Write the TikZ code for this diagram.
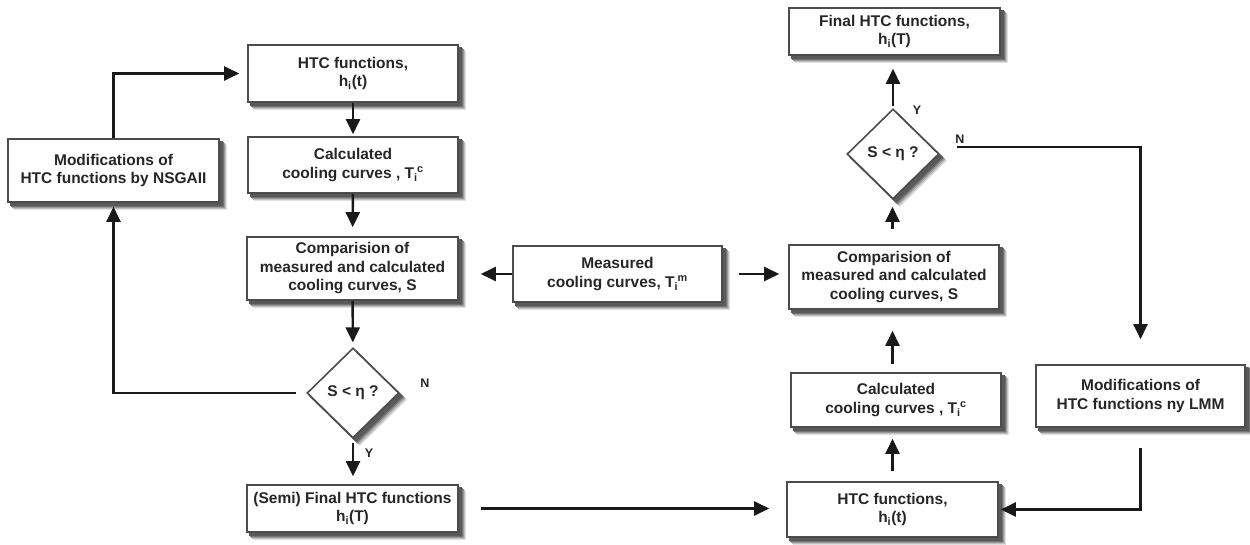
\documentclass[tikz,border=0pt]{standalone}
\usepackage{fontspec}
\setmainfont{Liberation Sans}
\usetikzlibrary{arrows.meta,shapes.geometric,calc}
\pgfdeclarelayer{bg}
\pgfsetlayers{bg,main}
\newcommand{\subsup}[2]{\textsubscript{#1}\kern-0.5pt\textsuperscript{#2}}
\newcommand{\shdbox}[1]{\foreach \o/\c in {7/12,6/25,5/40,4/55,3/65}{\fill[black!\c] ($(#1.north west)+(\o,\o)$) rectangle ($(#1.south east)+(\o,\o)$);}}
\newcommand{\shddia}[1]{\foreach \o/\c in {7/12,6/25,5/40,4/55,3/65}{\fill[black!\c] ($(#1.north)+(\o,\o)$) -- ($(#1.east)+(\o,\o)$) -- ($(#1.south)+(\o,\o)$) -- ($(#1.west)+(\o,\o)$) -- cycle;}}
\begin{document}
\begin{tikzpicture}[x=1pt,y=-1pt,
  box/.style={draw=black!70, line width=1.6pt, fill=white, align=center,
    font=\fontsize{15.5}{18.5}\selectfont\bfseries, text=black!85, inner sep=2pt},
  dia/.style={box, diamond, aspect=1, minimum width=92pt, minimum height=90pt, inner sep=0pt},
  arr/.style={line width=2.4pt, draw=black!90, -{Triangle[length=15pt,width=14pt]}},
  lbl/.style={font=\fontsize{12.5}{14}\selectfont\bfseries, text=black!85}]
\useasboundingbox (0,0) rectangle (1250,545);
% left column
\node[box, minimum width=210pt, minimum height=57pt] (htc1) at (353,73.5) {HTC functions,\\h\textsubscript{i}(t)};
\node[box, minimum width=210pt, minimum height=56pt] (calc1) at (353,165) {Calculated\\cooling curves , T\subsup{i}{c}};
\node[box, minimum width=211pt, minimum height=63pt] (nsga) at (113.5,170.5) {Modifications of\\HTC functions by NSGAII};
\node[box, minimum width=211pt, minimum height=63pt] (comp1) at (352.5,268.5) {Comparision of\\measured and calculated\\cooling curves, S};
\node[box, minimum width=209pt, minimum height=56pt] (meas) at (617.5,274) {Measured\\cooling curves, T\subsup{i}{m}};
\node[dia] (d1) at (353,393) {S < η ?};
\node[box, minimum width=211pt, minimum height=47pt] (semi) at (352.5,508.5) {(Semi) Final HTC functions\\h\textsubscript{i}(T)};
% right column
\node[box, minimum width=211pt, minimum height=47pt] (final) at (894.5,31.5) {Final HTC functions,\\h\textsubscript{i}(T)};
\node[dia] (d2) at (893,154) {S < η ?};
\node[box, minimum width=210pt, minimum height=64pt] (comp2) at (894,277) {Comparision of\\measured and calculated\\cooling curves, S};
\node[box, minimum width=210pt, minimum height=54pt] (calc2) at (896,400) {Calculated\\cooling curves , T\subsup{i}{c}};
\node[box, minimum width=211pt, minimum height=55pt] (htc2) at (892.5,509.5) {HTC functions,\\h\textsubscript{i}(t)};
\node[box, minimum width=209pt, minimum height=62pt] (lmm) at (1140.5,396) {Modifications of\\HTC functions ny LMM};
% shadows
\begin{pgfonlayer}{bg}
\foreach \n in {htc1,calc1,nsga,comp1,meas,semi,final,comp2,calc2,htc2,lmm}{\shdbox{\n}}
\shddia{d1}
\shddia{d2}
\end{pgfonlayer}
% labels
\node[lbl] (n1) at (425,383) {N};
\node[lbl] (y1) at (369,453) {Y};
\node[lbl] (y2) at (917,110) {Y};
\node[lbl] (n2) at (960,139) {N};
% left arrows
\draw[arr, shorten >=2pt] (htc1) -- (calc1);
\draw[arr, shorten >=9pt] (calc1) -- (comp1);
\draw[arr, shorten >=5pt] (comp1) -- (d1);
\draw[arr, shorten <=4pt, shorten >=8pt] (d1.south) -- (d1.south |- semi.north);
\draw[arr, shorten <=10pt, shorten >=4pt] (d1.west) -| (nsga.south);
\draw[arr, shorten >=8pt] (nsga.north) |- (htc1.west);
% middle arrows
\draw[arr, shorten >=22pt] (meas.west) -- (meas.west -| comp1.east);
\draw[arr, shorten <=16pt, shorten >=9pt] (meas.east) -- (meas.east -| comp2.west);
\draw[arr, shorten <=22pt, shorten >=17pt] (semi.east) -- (semi.east -| htc2.west);
% right arrows
\draw[arr, shorten <=10pt, shorten >=11pt] (htc2.north) -- (htc2.north |- calc2.south);
\draw[arr, shorten <=8pt, shorten >=21pt] (calc2.north -| htc2.north) -- (htc2.north |- comp2.south);
\draw[arr, shorten <=15pt, shorten >=7pt] (comp2.north -| htc2.north) -- (htc2.north |- d2.south);
\draw[arr, shorten <=2pt, shorten >=13pt] (d2.north) -- (d2.north |- final.south);
\coordinate (n2s) at ($(d2.east)+(17,-7)$);
\draw[arr, shorten >=25pt] (n2s) -| (lmm.north);
\draw[arr, shorten <=20pt, shorten >=2pt] (lmm.south) |- (htc2.east);
\end{tikzpicture}
\end{document}
